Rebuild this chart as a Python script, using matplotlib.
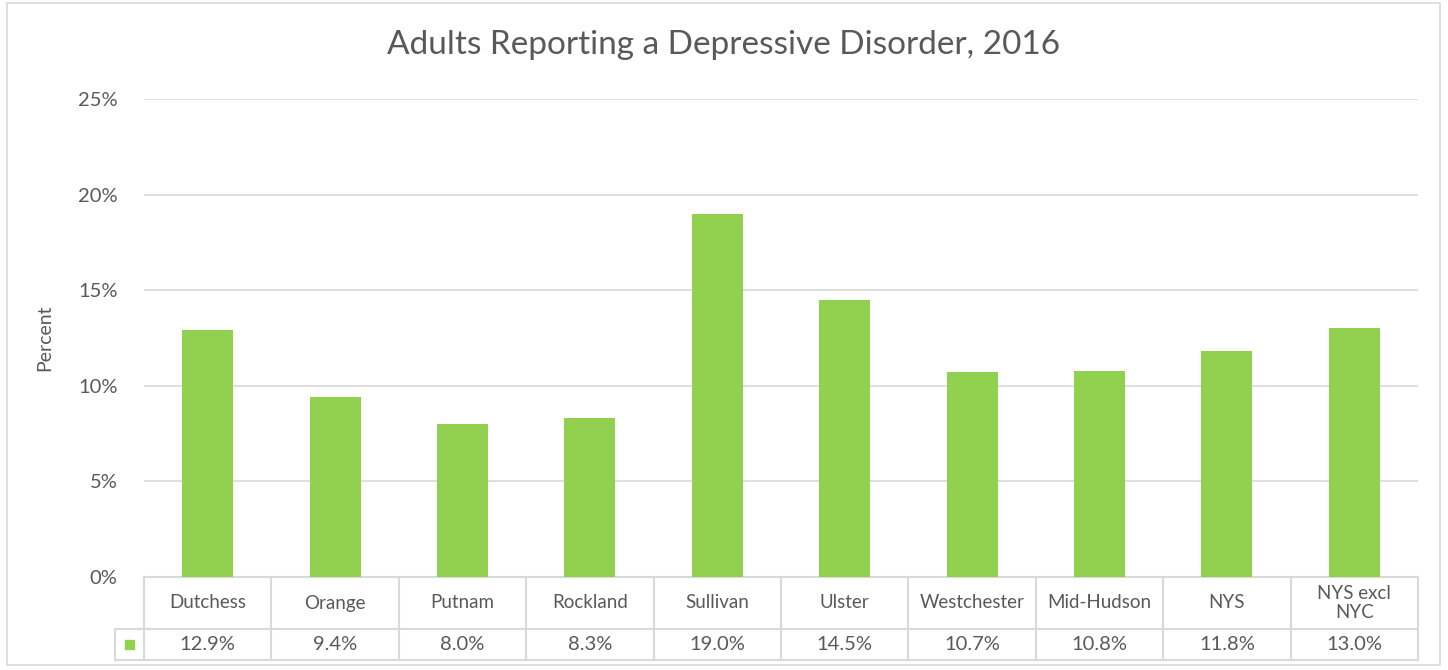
import matplotlib.pyplot as plt
from matplotlib.patches import Rectangle
from matplotlib.transforms import blended_transform_factory

# data
regions = ["Dutchess", "Orange", "Putnam", "Rockland", "Sullivan", "Ulster",
           "Westchester", "Mid-Hudson", "NYS", "NYS excl\nNYC"]
percent = [12.9, 9.4, 8.0, 8.3, 19.0, 14.5, 10.7, 10.8, 11.8, 13.0]
y_ticks = [0, 5, 10, 15, 20, 25]

W, H = 1448, 670
bar_color = "#92D050"
grid_color = "#D9D9D9"
text_color = "#595959"
plt.rcParams['font.family'] = ['Lato', 'DejaVu Sans']

fig = plt.figure(figsize=(W / 100, H / 100), dpi=100)
# plot area in pixels: x 144..1418, y 99..577 (from top)
ax = fig.add_axes([144 / W, (H - 577) / H, (1418 - 144) / W, (577 - 99) / H])

x = list(range(len(regions)))
ax.bar(x, percent, width=0.4, color=bar_color, zorder=3)
ax.set_xlim(-0.5, len(regions) - 0.5)
ax.set_ylim(0, 25)
ax.set_yticks(y_ticks)
ax.set_yticklabels([f"{t}%" for t in y_ticks], fontsize=14.5, color=text_color)
ax.tick_params(axis='y', length=0, pad=19)
ax.set_xticks([])
ax.grid(axis='y', color=grid_color, linewidth=1.2, zorder=0)
for s in ax.spines.values():
    s.set_visible(False)
ax.set_ylabel("Percent", fontsize=14, color=text_color, labelpad=18)

fig.text(0.5, 1 - 45 / H, "Adults Reporting a Depressive Disorder, 2016",
         ha='center', va='center', fontsize=24, color=text_color)

# data table under the axis
tr = blended_transform_factory(ax.transData, ax.transAxes)
ph = 577 - 99
hdr_bot = -(629 - 577) / ph
val_bot = -(660 - 577) / ph
key_left = -0.5 - (144 - 115) / ((1418 - 144) / len(regions))
line_kw = dict(color=grid_color, linewidth=1.5, transform=tr, clip_on=False)
ax.plot([-0.5, len(regions) - 0.5], [0, 0], **line_kw)
ax.plot([key_left, len(regions) - 0.5], [hdr_bot, hdr_bot], **line_kw)
ax.plot([key_left, len(regions) - 0.5], [val_bot, val_bot], **line_kw)
ax.plot([key_left, key_left], [hdr_bot, val_bot], **line_kw)
for b in range(len(regions) + 1):
    ax.plot([b - 0.5, b - 0.5], [0, val_bot], **line_kw)
for i, (name, v) in enumerate(zip(regions, percent)):
    ax.text(i, hdr_bot / 2, name, transform=tr, ha='center', va='center',
            fontsize=13.5, color=text_color, linespacing=1.1)
    ax.text(i, (hdr_bot + val_bot) / 2, f"{v:.1f}%", transform=tr, ha='center',
            va='center', fontsize=14.5, color=text_color)
kx = (key_left + -0.5) / 2
ax.add_patch(Rectangle((kx - 0.035, (hdr_bot + val_bot) / 2 - 0.009), 0.07, 0.018,
                       transform=tr, color=bar_color, clip_on=False))

# outer chart border
fig.add_artist(Rectangle((7 / W, 1 - 665 / H), (1440 - 7) / W, (665 - 3) / H,
                         transform=fig.transFigure, fill=False,
                         edgecolor=grid_color, linewidth=1.2))

fig.savefig("out.png", dpi=100)
